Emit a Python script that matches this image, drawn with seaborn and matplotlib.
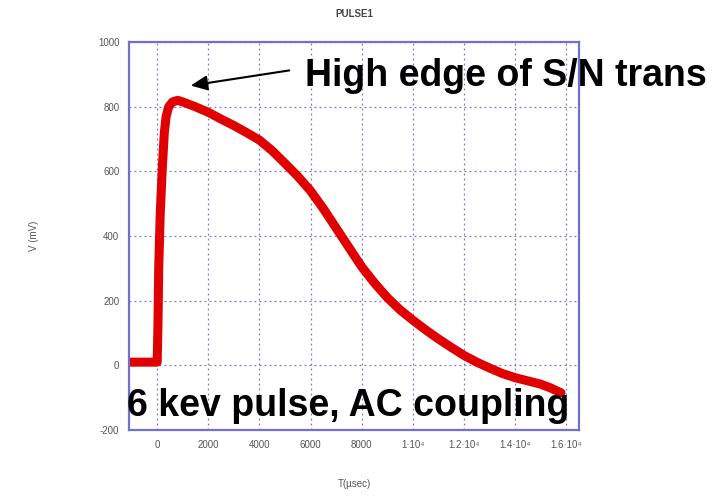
import pandas as pd
import matplotlib
matplotlib.use("Agg")
import matplotlib.pyplot as plt
import seaborn as sns

# pulse trace
time_us = [-1050, -500, 0, 30, 60, 120, 200, 280, 350, 450, 600, 800, 1000,
           1500, 2000, 2500, 3000, 3500, 4000, 4500, 5000, 5500, 6000, 6500,
           7000, 7500, 8000, 8500, 9000, 9500, 10000, 10500, 11000, 11500,
           12000, 12500, 13000, 13500, 14000, 14500, 15000, 15400, 15800]
volt_mv = [10, 10, 10, 120, 300, 470, 610, 720, 770, 800, 815, 820, 815,
           800, 783, 762, 742, 720, 697, 664, 625, 585, 540, 485,
           425, 365, 305, 255, 210, 172, 140, 110, 82, 56,
           31, 10, -8, -25, -38, -48, -58, -70, -85]

x_ticks = [0, 2000, 4000, 6000, 8000, 10000, 12000, 14000, 16000]
x_tick_labels = ["0", "2000", "4000", "6000", "8000",
                 "1·10⁴", "1.2·10⁴", "1.4·10⁴", "1.6·10⁴"]
y_ticks = [-200, 0, 200, 400, 600, 800, 1000]
y_tick_labels = ["-200", "0", "200", "400", "600", "800", "1000"]

df = pd.DataFrame({"T": time_us, "V": volt_mv})

sns.set_style("white")
plt.rcParams['font.family'] = ['Liberation Sans', 'DejaVu Sans']

fig = plt.figure(figsize=(7.13, 4.96), dpi=100)
ax = fig.add_axes([0.181, 0.133, 0.631, 0.782])

sns.lineplot(data=df, x="T", y="V", ax=ax, color="#e00000", linewidth=6.5,
             solid_capstyle="round", solid_joinstyle="round")

ax.set_xlim(-1100, 16500)
ax.set_ylim(-200, 1000)
ax.set_xticks(x_ticks)
ax.set_xticklabels(x_tick_labels)
ax.set_yticks(y_ticks)
ax.set_yticklabels(y_tick_labels)
ax.tick_params(length=0, labelsize=7, labelcolor="#555555", pad=7)
ax.grid(True, color="#7a7acc", linestyle=(0, (1.5, 2.5)), linewidth=0.9)
for s in ax.spines.values():
    s.set_color("#7070d0")
    s.set_linewidth(1.6)

ax.set_xlabel("T(µsec)", fontsize=7, color="#555555", labelpad=21)
ax.set_ylabel("V (mV)", fontsize=7, color="#555555", labelpad=42)
ax.set_title("PULSE1", fontsize=7, fontweight="bold", color="#444444", pad=18)

fig.text(305 / 713, 1 - 76 / 496, "High edge of S/N trans", fontsize=27,
         fontweight="bold", color="black", va="center", ha="left")
ax.annotate("", xy=(188 / 713, 1 - 86 / 496), xycoords="figure fraction",
            xytext=(292 / 713, 1 - 70 / 496), textcoords="figure fraction",
            arrowprops=dict(arrowstyle="-|>,head_length=1.0,head_width=0.45",
                            color="black", lw=1.5))
fig.text(127 / 713, 1 - 406 / 496, "6 kev pulse, AC coupling", fontsize=27,
         fontweight="bold", color="black", va="center", ha="left")

fig.savefig("out.png", dpi=100)
